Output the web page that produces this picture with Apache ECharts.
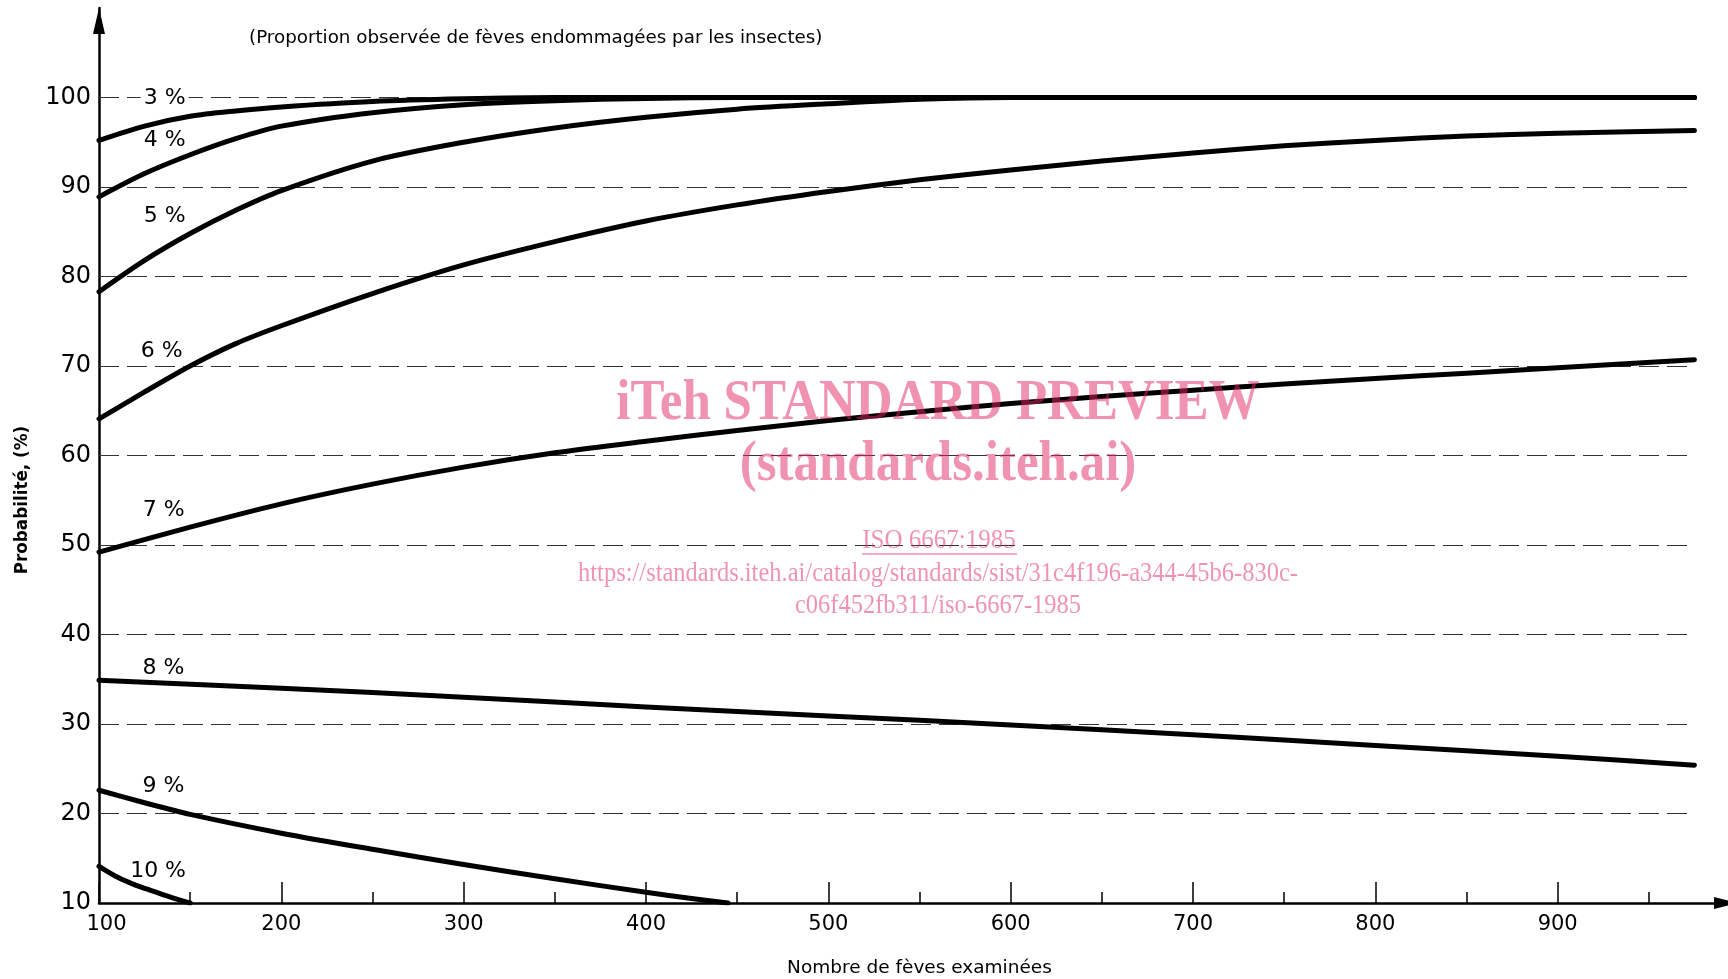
<!DOCTYPE html>
<html><head><meta charset="utf-8">
<script src="https://cdn.jsdelivr.net/npm/echarts@6/dist/echarts.min.js"></script>
<style>html,body{margin:0;padding:0;background:#fff}#c{width:1728px;height:979px}</style>
</head><body><div id="c"></div>
<script>
// ---- data ----
const xTickLabels = [100, 200, 300, 400, 500, 600, 700, 800, 900];
const yTickLabels = [10, 20, 30, 40, 50, 60, 70, 80, 90, 100];
const gridValues = [20, 30, 40, 50, 60, 70, 80, 90, 100];
const gridExtent = [100, 975];

const curveNames = ['3 %', '4 %', '5 %', '6 %', '7 %', '8 %', '9 %', '10 %'];

const x3 = [100, 125, 150, 175, 200, 250, 300, 350, 400, 500, 600, 700, 800, 900, 975];
const y3 = [95.2, 96.8, 97.9, 98.5, 98.95, 99.55, 99.85, 100, 100, 100, 100, 100, 100, 100, 100];

const x4 = [100, 125, 150, 175, 200, 250, 300, 350, 400, 450, 500, 600, 700, 800, 900, 975];
const y4 = [88.9, 91.5, 93.6, 95.4, 96.8, 98.3, 99.2, 99.65, 99.9, 100, 100, 100, 100, 100, 100, 100];

const x5 = [100, 125, 150, 175, 200, 250, 300, 350, 400, 450, 500, 550, 600, 700, 800, 900, 975];
const y5 = [78.3, 81.8, 84.8, 87.4, 89.6, 92.9, 95.0, 96.6, 97.8, 98.7, 99.3, 99.8, 100, 100, 100, 100, 100];

const x6 = [100, 125, 150, 175, 200, 250, 300, 350, 400, 450, 500, 550, 600, 650, 700, 750, 800, 850, 900, 975];
const y6 = [64.1, 67.1, 70.0, 72.5, 74.5, 78.1, 81.3, 83.9, 86.2, 88.0, 89.5, 90.8, 91.9, 92.9, 93.8, 94.6, 95.2, 95.7, 96.0, 96.3];

const x7 = [100, 150, 200, 250, 300, 350, 400, 450, 500, 550, 600, 650, 700, 750, 800, 850, 900, 975];
const y7 = [49.2, 52.0, 54.6, 56.8, 58.7, 60.3, 61.6, 62.8, 63.9, 64.9, 65.8, 66.6, 67.3, 68.0, 68.6, 69.2, 69.8, 70.7];

const x8 = [100, 200, 300, 400, 500, 600, 700, 800, 900, 975];
const y8 = [34.9, 34.0, 33.0, 31.9, 30.9, 29.9, 28.8, 27.6, 26.4, 25.4];

const x9 = [100, 125, 150, 200, 250, 300, 350, 400, 425, 445];
const y9 = [22.6, 21.2, 19.9, 17.8, 16.0, 14.3, 12.7, 11.2, 10.5, 10.0];

const x10 = [100, 110, 120, 130, 140, 150];
const y10 = [14.1, 12.9, 12.0, 11.3, 10.6, 10.0];

const labelX = [136, 136, 136, 134.4, 135.5, 135.4, 135.4, 132.4];
const labelY = [99.9, 95.2, 86.7, 71.6, 53.9, 36.2, 23.0, 13.5];

const titleText = '(Proportion observée de fèves endommagées par les insectes)';
const xName = 'Nombre de fèves examinées';
const yName = 'Probabilité, (%)';
const wm1 = 'iTeh STANDARD PREVIEW';
const wm2 = '(standards.iteh.ai)';
const wm3 = 'ISO 6667:1985';
const wm4 = 'https://standards.iteh.ai/catalog/standards/sist/31c4f196-a344-45b6-830c-';
const wm5 = 'c06f452fb311/iso-6667-1985';

// ---- build ----
const xs = [x3, x4, x5, x6, x7, x8, x9, x10];
const ys = [y3, y4, y5, y6, y7, y8, y9, y10];
const FONT = '"DejaVu Sans", "Liberation Sans", sans-serif';
const PINK = 'rgba(225,40,100,0.5)';

const curveSeries = xs.map((xa, k) => ({
  type: 'line',
  name: curveNames[k],
  data: xa.map((v, i) => [v, ys[k][i]]),
  smooth: 0.3,
  symbol: 'none',
  z: 5,
  lineStyle: { color: '#000', width: 5, cap: 'round', join: 'round' },
  silent: true
}));

const gridSeries = {
  type: 'line',
  data: [],
  z: 2,
  silent: true,
  markLine: {
    silent: true,
    symbol: ['none', 'none'],
    label: { show: false },
    lineStyle: { color: '#333', width: 1.1, type: [20, 8] },
    emphasis: { disabled: true },
    data: gridValues.map(v => [{ coord: [gridExtent[0], v] }, { coord: [gridExtent[1], v] }])
  }
};

const labelSeries = {
  type: 'scatter',
  z: 6,
  silent: true,
  symbol: 'circle',
  symbolSize: 0,
  itemStyle: { color: '#fff', opacity: 1 },
  emphasis: { disabled: true },
  data: curveNames.map((n, i) => ({
    name: n,
    value: [labelX[i], labelY[i]],
    label: i === 0 ? { backgroundColor: '#fff', padding: [0, 3] } : {}
  })),
  label: {
    show: true,
    position: 'inside',
    formatter: p => p.name,
    fontFamily: FONT,
    fontSize: 22,
    color: '#000',
    opacity: 1,
    textBorderWidth: 0
  }
};

const chart = echarts.init(document.getElementById('c'), null, { renderer: 'canvas' });
chart.setOption({
  backgroundColor: '#fff',
  animation: false,
  grid: { left: 99, right: -12, top: 8, bottom: 76, containLabel: false, outerBoundsMode: 'none' },
  xAxis: {
    type: 'value',
    min: 100, max: 1000, interval: 100,
    name: xName,
    nameLocation: 'middle',
    nameGap: 56,
    nameTextStyle: { fontFamily: FONT, fontSize: 18.5, color: '#000' },
    axisLine: {
      show: true, onZero: false,
      lineStyle: { color: '#000', width: 2.5 },
      symbol: ['none', 'triangle'], symbolSize: [12, 24], symbolOffset: [0, -14]
    },
    axisTick: { show: true, inside: true, length: 21, lineStyle: { color: '#000', width: 1.5 } },
    minorTick: { show: true, splitNumber: 2, length: 11, lineStyle: { color: '#000', width: 1.5 } },
    splitLine: { show: false },
    minorSplitLine: { show: false },
    axisLabel: {
      margin: 11,
      fontFamily: FONT, fontSize: 21, color: '#000',
      formatter: v => (v === xTickLabels[0] ? '{a|' + v + '}' : (xTickLabels.indexOf(v) >= 0 ? String(v) : '')),
      rich: { a: { fontFamily: FONT, fontSize: 21, color: '#000', padding: [0, 0, 0, 15] } }
    }
  },
  yAxis: {
    type: 'value',
    min: 10, max: 110, interval: 10,
    axisLine: {
      show: true, onZero: false,
      lineStyle: { color: '#000', width: 2.5 },
      symbol: ['none', 'triangle'], symbolSize: [12, 26], symbolOffset: [0, -13]
    },
    axisTick: { show: false },
    splitLine: { show: false },
    axisLabel: {
      margin: 8,
      fontFamily: FONT, fontSize: 24, color: '#000',
      formatter: v => (yTickLabels.indexOf(v) >= 0 ? String(v) : '')
    }
  },
  graphic: [
    { type: 'text', z: 10, style: { text: titleText, x: 249, y: 38, align: 'left', verticalAlign: 'middle', font: '18.3px ' + FONT, fill: '#000' } },
    { type: 'text', z: 10, x: 23, y: 500, rotation: Math.PI / 2, style: { text: yName, x: 0, y: 0, align: 'center', verticalAlign: 'middle', font: 'bold 16.8px ' + FONT, fill: '#000' } },
    { type: 'text', z: 100, x: 938, y: 404, scaleY: 1.12, style: { text: wm1, x: 0, y: 0, align: 'center', verticalAlign: 'middle', font: 'bold 51px "Liberation Serif", serif', fill: PINK } },
    { type: 'text', z: 100, x: 938, y: 465, scaleY: 1.12, style: { text: wm2, x: 0, y: 0, align: 'center', verticalAlign: 'middle', font: 'bold 51px "Liberation Serif", serif', fill: PINK } },
    { type: 'text', z: 100, x: 939, y: 541, scaleY: 1.08, style: { text: wm3, x: 0, y: 0, align: 'center', verticalAlign: 'middle', font: '25px "Liberation Serif", serif', fill: PINK } },
    { type: 'line', z: 100, shape: { x1: 862, y1: 554, x2: 1017, y2: 554 }, style: { stroke: PINK, lineWidth: 1.5 } },
    { type: 'text', z: 100, x: 938, y: 574, scaleY: 1.08, style: { text: wm4, x: 0, y: 0, align: 'center', verticalAlign: 'middle', font: '24.5px "Liberation Serif", serif', fill: PINK } },
    { type: 'text', z: 100, x: 938, y: 606, scaleY: 1.08, style: { text: wm5, x: 0, y: 0, align: 'center', verticalAlign: 'middle', font: '24.5px "Liberation Serif", serif', fill: PINK } }
  ],
  series: [gridSeries].concat(curveSeries, [labelSeries])
});
</script>
</body></html>
